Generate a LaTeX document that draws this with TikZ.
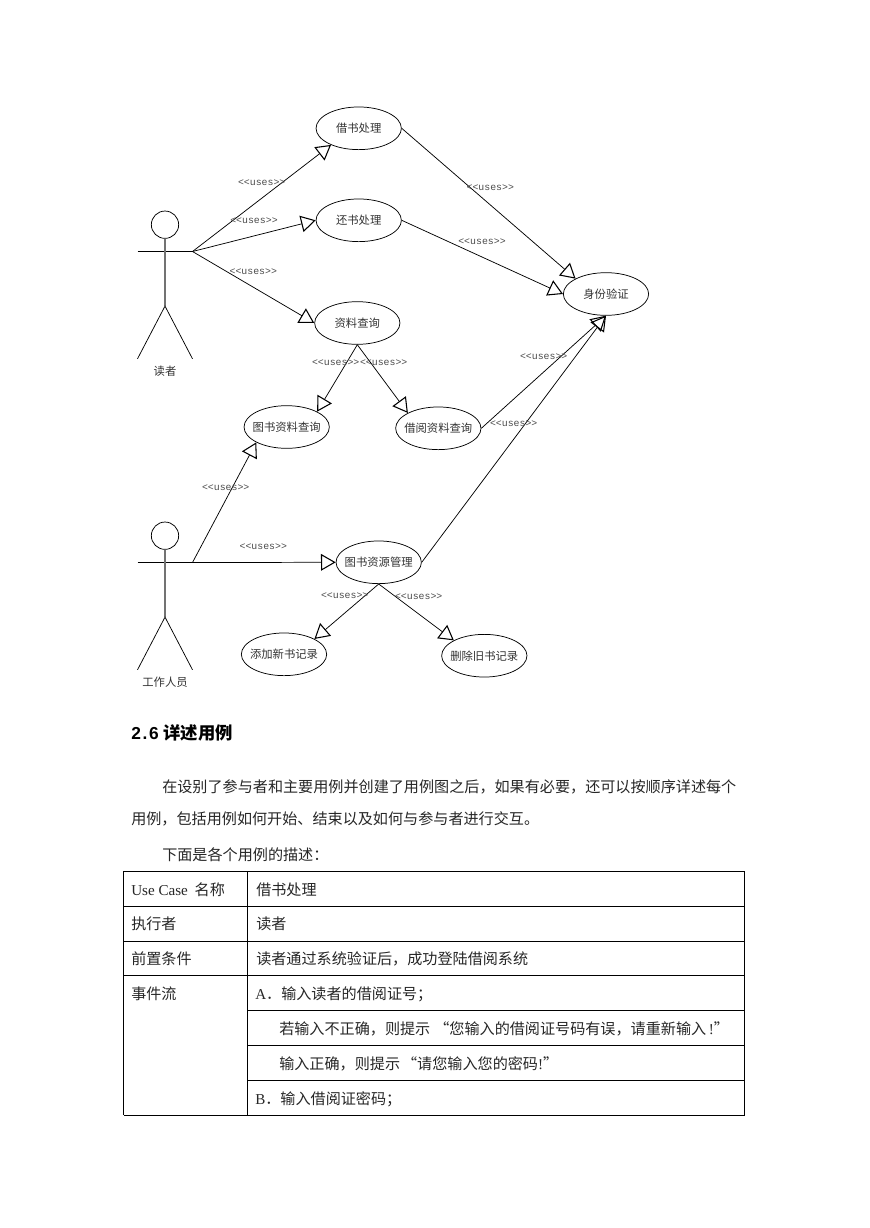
\documentclass[tikz,border=0pt]{standalone}
\usepackage{fontspec}
\setmainfont{Noto Sans CJK SC}
\newfontfamily\latinfont{Liberation Serif}
\newfontfamily\usesfont{Liberation Mono}
\newfontfamily\headfont[LetterSpace=10]{Liberation Sans}
\usetikzlibrary{shapes.geometric,arrows.meta}

\newcommand*{\tblleft}{123.5}
\newcommand*{\tblmid}{247.5}
\newcommand*{\tblright}{744.5}
\newcommand*{\useslabel}{{<}{<}uses{>}{>}}
\newcommand*{\casename}[1]{\makebox[0pt]{#1}}

\begin{document}
\begin{tikzpicture}
[
	x=0.75pt,
	y=-0.75pt,
	usecase/.style={ellipse,draw,inner sep=0pt,minimum width=64pt,minimum height=32pt,font=\fontsize{8.5}{10}\selectfont,text=black!80,line width=0.55pt},
	actorhead/.style={circle,draw,inner sep=0pt,minimum size=20.5pt,line width=0.55pt},
	actorname/.style={font=\fontsize{8.5}{10}\selectfont,text=black!80},
	uses/.style={font=\usesfont\fontsize{7.4}{9}\selectfont,text=black!70,inner sep=0pt},
	usesarrow/.style={-{Triangle[open,length=11pt,width=12.5pt,line width=0.8pt]},line width=0.55pt},
	bodytext/.style={anchor=base west,inner sep=0pt,font=\fontsize{11.33}{14}\selectfont,text=black!85}
]
	\useasboundingbox (0,0) rectangle (869,1228);

	% actors
	\foreach \y/\who/\label in {251.5/reader/读者,562.5/worker/工作人员} {
		\node[actorhead] (\who head) at (165,{\y-26.8}) {};
		\coordinate (\who arm) at (137.5,\y);
		\coordinate (\who hand) at (192.5,\y);
		\coordinate (\who hip) at (165,{\y+54.6});
		\coordinate (\who footl) at (137.5,{\y+107.3});
		\coordinate (\who footr) at (192.5,{\y+107.3});
		\draw[line width=0.6pt] (\who arm) -- (\who hand);
		\draw[line width=1pt,black!55] (\who head.south) -- (\who hip);
		\draw[line width=0.55pt] (\who footl) -- (\who hip) -- (\who footr);
		\node[actorname] (\who name) at (165,{\y+120}) {\label};
	}

	% use cases
	\node[usecase] (borrow) at (358.7,128.3) {\casename{借书处理}};
	\node[usecase] (return) at (358.7,220.3) {\casename{还书处理}};
	\node[usecase] (query) at (357.3,323) {\casename{资料查询}};
	\node[usecase] (verify) at (606,294) {\casename{身份验证}};
	\node[usecase] (bookquery) at (286.7,427) {\casename{图书资料查询}};
	\node[usecase] (lendquery) at (438.3,428.3) {\casename{借阅资料查询}};
	\node[usecase] (manage) at (378.7,562.3) {\casename{图书资源管理}};
	\node[usecase] (addrec) at (284,654.3) {\casename{添加新书记录}};
	\node[usecase] (delrec) at (484.3,655.7) {\casename{删除旧书记录}};

	% connectors
	\foreach \from/\to in {readerhand/borrow.211,readerhand/return.west,readerhand/query.west,
		borrow.east/verify.north west,return.east/verify.west,
		query.south/bookquery.north east,query.south/lendquery.north west,
		lendquery.east/verify.south,manage.east/verify.south,
		workerhand/bookquery.south west,workerhand/manage.west,
		manage.south/addrec.north east,manage.south/delrec.north west} {
		\draw[usesarrow] (\from) -- (\to);
	}

	% labels
	\foreach \x/\y [count=\i] in {261.7/182.5,254/220.5,253.3/271.8,335.7/362.2,383.7/362.5,
		490.3/187.8,482/241.5,543.7/356.2,513.7/423.2,
		225.7/487.5,263.3/546.5,344.7/595.8,418.7/596.2} {
		\node[uses] (uses\i) at (\x,\y) {\useslabel};
	}

	% text
	\node[anchor=base west,inner sep=0pt,font=\fontsize{13}{15}\selectfont\bfseries] (heading) at (131,739)
		{{\headfont 2.6}\hspace{3.5pt}详述用例};
	\node[bodytext] (para1) at (162,792) {在设别了参与者和主要用例并创建了用例图之后，如果有必要，还可以按顺序详述每个};
	\node[bodytext] (para2) at (131,824) {用例，包括用例如何开始、结束以及如何与参与者进行交互。};
	\node[bodytext] (para3) at (162,860) {下面是各个用例的描述：};

	% table
	\foreach \y in {871,906,941,975,1115} {
		\draw[line width=0.7pt] (\tblleft,\y) -- (\tblright,\y);
	}
	\foreach \y in {1010,1045,1080} {
		\draw[line width=0.7pt] (\tblmid,\y) -- (\tblright,\y);
	}
	\foreach \x in {\tblleft,\tblmid,\tblright} {
		\draw[line width=0.7pt] (\x,871) -- (\x,1115);
	}

	\node[bodytext] (cell1) at (131,895) {{\latinfont Use Case}\ \ 名称};
	\node[bodytext] (cell2) at (131,929) {执行者};
	\node[bodytext] (cell3) at (131,964) {前置条件};
	\node[bodytext] (cell4) at (131,999) {事件流};
	\node[bodytext] (cell5) at (256,895) {借书处理};
	\node[bodytext] (cell6) at (256,929) {读者};
	\node[bodytext] (cell7) at (256,964) {读者通过系统验证后，成功登陆借阅系统};
	\node[bodytext] (cell8) at (255,999) {{\latinfont A}．输入读者的借阅证号；};
	\node[bodytext] (cell9) at (279,1034) {若输入不正确，则提示\hspace{3pt}“您输入的借阅证号码有误，请重新输入\hspace{2pt}{\latinfont !}”};
	\node[bodytext] (cell10) at (279,1069) {输入正确，则提示\hspace{1.5pt}“请您输入您的密码{\latinfont !}”};
	\node[bodytext] (cell11) at (255,1104) {{\latinfont B}．输入借阅证密码；};
\end{tikzpicture}
\end{document}
